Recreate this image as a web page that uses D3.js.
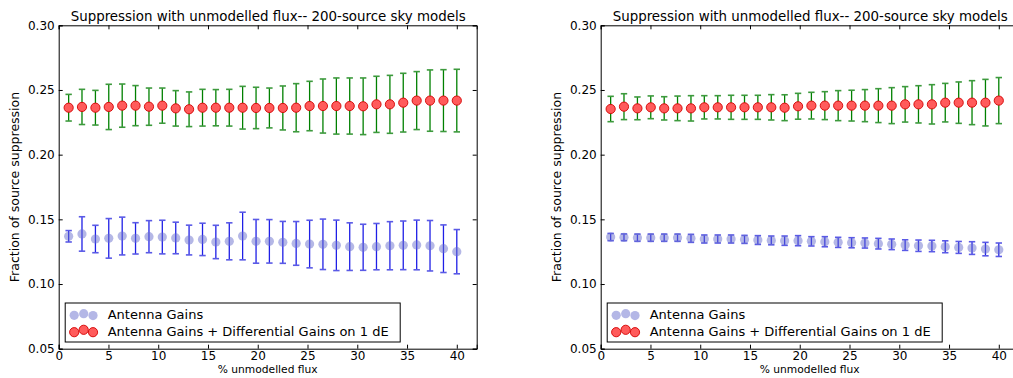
<!DOCTYPE html>
<html>
<head>
<meta charset="utf-8">
<script src="https://cdn.jsdelivr.net/npm/d3@7"></script>
<style>
  html, body { margin: 0; padding: 0; background: #fff; }
  svg { display: block; font-family: "DejaVu Sans", sans-serif; }
</style>
</head>
<body>
<svg id="chart" width="1013" height="378"></svg>
<script>
// Percentage of unmodelled flux at which each run was made
const fluxPct = [1, 2.34, 3.69, 5.03, 6.38, 7.72, 9.07, 10.41, 11.76, 13.10,
  14.45, 15.79, 17.14, 18.48, 19.83, 21.17, 22.52, 23.86, 25.21, 26.55,
  27.90, 29.24, 30.59, 31.93, 33.28, 34.62, 35.97, 37.31, 38.66, 40];

const xTicks = [0, 5, 10, 15, 20, 25, 30, 35, 40];
const yTicks = [0.05, 0.10, 0.15, 0.20, 0.25, 0.30];

const chartTitle = "Suppression with unmodelled flux-- 200-source sky models";
const xLabel = "% unmodelled flux";
const yLabel = "Fraction of source suppression";
const seriesNames = ["Antenna Gains", "Antenna Gains + Differential Gains on 1 dE"];

// Left panel
const leftGainMean = [0.1369, 0.1387, 0.1348, 0.1353, 0.1371, 0.1353, 0.1366, 0.1363, 0.1356, 0.1340,
  0.1345, 0.1325, 0.1330, 0.1371, 0.1330, 0.1330, 0.1322, 0.1314, 0.1309, 0.1307,
  0.1299, 0.1289, 0.1284, 0.1289, 0.1296, 0.1299, 0.1302, 0.1296, 0.1273, 0.1250];
const leftGainErr = [0.0044, 0.0133, 0.0106, 0.0153, 0.0146, 0.0121, 0.0124, 0.0130, 0.0122, 0.0115,
  0.0125, 0.0129, 0.0143, 0.0184, 0.0169, 0.0168, 0.0162, 0.0169, 0.0184, 0.0195,
  0.0195, 0.0184, 0.0178, 0.0179, 0.0186, 0.0188, 0.0192, 0.0195, 0.0184, 0.0171];
const leftDiffMean = [0.2363, 0.2369, 0.2363, 0.2369, 0.2379, 0.2379, 0.2371, 0.2379, 0.2358, 0.2351,
  0.2363, 0.2363, 0.2363, 0.2363, 0.2361, 0.2361, 0.2361, 0.2363, 0.2376, 0.2376,
  0.2376, 0.2376, 0.2374, 0.2389, 0.2389, 0.2402, 0.2418, 0.2418, 0.2418, 0.2418];
const leftDiffErr = [0.0103, 0.0136, 0.0134, 0.0175, 0.0167, 0.0155, 0.0144, 0.0136, 0.0137, 0.0134,
  0.0142, 0.0140, 0.0142, 0.0165, 0.0160, 0.0154, 0.0170, 0.0186, 0.0191, 0.0209,
  0.0217, 0.0217, 0.0219, 0.0217, 0.0224, 0.0227, 0.0224, 0.0237, 0.0239, 0.0242];

// Right panel
const rightGainMean = [0.1363, 0.1361, 0.1358, 0.1358, 0.1358, 0.1358, 0.1353, 0.1348, 0.1348, 0.1348,
  0.1345, 0.1340, 0.1337, 0.1335, 0.1335, 0.1330, 0.1327, 0.1322, 0.1319, 0.1317,
  0.1312, 0.1307, 0.1301, 0.1296, 0.1294, 0.1288, 0.1283, 0.1278, 0.1270, 0.1265];
const rightGainErr = [0.0028, 0.0026, 0.0028, 0.0028, 0.0028, 0.0028, 0.0031, 0.0031, 0.0031, 0.0031,
  0.0031, 0.0034, 0.0034, 0.0036, 0.0039, 0.0036, 0.0039, 0.0039, 0.0039, 0.0039,
  0.0041, 0.0041, 0.0041, 0.0044, 0.0044, 0.0046, 0.0046, 0.0049, 0.0052, 0.0052];
const rightDiffMean = [0.2353, 0.2371, 0.2358, 0.2366, 0.2358, 0.2358, 0.2358, 0.2366, 0.2366, 0.2366,
  0.2366, 0.2366, 0.2366, 0.2363, 0.2374, 0.2379, 0.2379, 0.2379, 0.2379, 0.2379,
  0.2379, 0.2379, 0.2389, 0.2389, 0.2389, 0.2402, 0.2402, 0.2402, 0.2402, 0.2418];
const rightDiffErr = [0.0098, 0.0100, 0.0088, 0.0088, 0.0090, 0.0095, 0.0098, 0.0090, 0.0090, 0.0093,
  0.0093, 0.0093, 0.0098, 0.0100, 0.0100, 0.0103, 0.0108, 0.0116, 0.0119, 0.0124,
  0.0131, 0.0139, 0.0137, 0.0144, 0.0152, 0.0149, 0.0160, 0.0170, 0.0180, 0.0178];

const panels = [
  { left: 58.7, gainMean: leftGainMean, gainErr: leftGainErr, diffMean: leftDiffMean, diffErr: leftDiffErr },
  { left: 600.7, gainMean: rightGainMean, gainErr: rightGainErr, diffMean: rightDiffMean, diffErr: rightDiffErr }
];

const plotW = 418, plotTop = 25.3, plotBottom = 348.7;
const gainStyle = { bar: "#1f1fe6", cap: "#5a5ae6", fill: "rgb(105,112,205)", fillOpacity: 0.5, stroke: "none" };
const diffStyle = { bar: "#008000", cap: "#3d9a3d", fill: "#ff5b5b", fillOpacity: 1, stroke: "#d40000" };

const svg = d3.select("#chart");

function drawSeries(g, x, y, means, errs, st) {
  const pts = fluxPct.map((v, i) => ({ x: v, m: means[i], e: errs[i] }));
  const grp = g.append("g");
  grp.selectAll("line.bar").data(pts).join("line").attr("class", "bar")
    .attr("x1", d => x(d.x)).attr("x2", d => x(d.x))
    .attr("y1", d => y(d.m - d.e)).attr("y2", d => y(d.m + d.e))
    .attr("stroke", st.bar).attr("stroke-width", 1.3);
  [-1, 1].forEach(s => {
    grp.selectAll(null).data(pts).join("line")
      .attr("x1", d => x(d.x) - 3.2).attr("x2", d => x(d.x) + 3.2)
      .attr("y1", d => y(d.m + s * d.e)).attr("y2", d => y(d.m + s * d.e))
      .attr("stroke", st.cap).attr("stroke-width", 1.6);
  });
  grp.selectAll("circle").data(pts).join("circle")
    .attr("cx", d => x(d.x)).attr("cy", d => y(d.m)).attr("r", 4.6)
    .attr("fill", st.fill).attr("fill-opacity", st.fillOpacity)
    .attr("stroke", st.stroke).attr("stroke-width", 0.9);
}

panels.forEach(p => {
  const x = d3.scaleLinear().domain([0, 42]).range([p.left, p.left + plotW]);
  const y = d3.scaleLinear().domain([0.05, 0.30]).range([plotBottom, plotTop]);
  const g = svg.append("g");

  // data
  drawSeries(g, x, y, p.gainMean, p.gainErr, gainStyle);
  drawSeries(g, x, y, p.diffMean, p.diffErr, diffStyle);

  // axes with inward ticks on all four sides
  const fmtY = d3.format(".2f");
  g.append("g").attr("transform", `translate(0,${plotBottom})`)
    .call(d3.axisBottom(x).tickValues(xTicks).tickSize(-4).tickPadding(3).tickFormat(d3.format("d")));
  g.append("g").attr("transform", `translate(0,${plotTop})`)
    .call(d3.axisTop(x).tickValues(xTicks).tickSize(-4).tickFormat(""));
  g.append("g").attr("transform", `translate(${p.left},0)`)
    .call(d3.axisLeft(y).tickValues(yTicks).tickSize(-4).tickPadding(4).tickFormat(fmtY));
  g.append("g").attr("transform", `translate(${p.left + plotW},0)`)
    .call(d3.axisRight(y).tickValues(yTicks).tickSize(-4).tickFormat(""));
  g.selectAll(".domain").attr("stroke", "#000").attr("stroke-width", 1);
  g.selectAll(".tick line").attr("stroke", "#000");
  g.selectAll(".tick text").attr("font-size", 12).attr("font-family", "DejaVu Sans").attr("fill", "#000");

  // title and labels
  g.append("text").attr("x", p.left + plotW / 2 + 0.5).attr("y", 21)
    .attr("text-anchor", "middle").attr("font-size", 13.4).text(chartTitle);
  g.append("text").attr("x", p.left + 209).attr("y", 372.5)
    .attr("text-anchor", "middle").attr("font-size", 10.7).text(xLabel);
  g.append("text").attr("transform", `translate(${p.left - 40},${(plotTop + plotBottom) / 2}) rotate(-90)`)
    .attr("text-anchor", "middle").attr("font-size", 12.5).text(yLabel);

  // legend
  const lg = g.append("g").attr("transform", `translate(${p.left + 6.5},303)`);
  lg.append("rect").attr("width", 335).attr("height", 39)
    .attr("fill", "#fff").attr("stroke", "#000").attr("stroke-width", 1);
  const entries = [
    { name: seriesNames[0], st: gainStyle, cy: 11.5, off: [0.8, -0.8, 1.1] },
    { name: seriesNames[1], st: diffStyle, cy: 28, off: [1.2, -1.2, 1.2] }
  ];
  entries.forEach(en => {
    [9, 18.5, 27.8].forEach((cx, k) => {
      lg.append("circle").attr("cx", cx).attr("cy", en.cy + en.off[k]).attr("r", 4.6)
        .attr("fill", en.st.fill).attr("fill-opacity", en.st.fillOpacity)
        .attr("stroke", en.st.stroke).attr("stroke-width", 0.9);
    });
    lg.append("text").attr("x", 42.5).attr("y", en.cy + 4.5).attr("font-size", 13).text(en.name);
  });
});
</script>
</body>
</html>
